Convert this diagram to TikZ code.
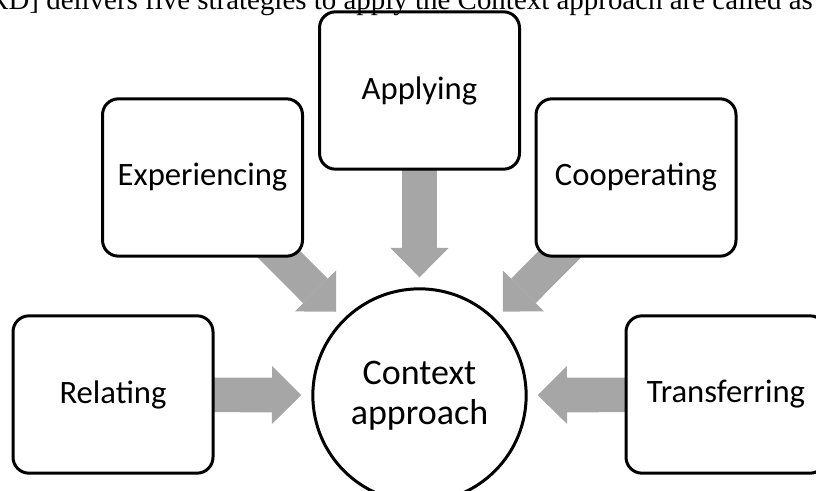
\documentclass[tikz,border=0pt]{standalone}
\usepackage{fontspec}
\setmainfont{Carlito}
\newfontfamily\captionserif{Liberation Serif}
\usetikzlibrary{arrows.meta, positioning, backgrounds}
\definecolor{arrowgray}{RGB}{166,166,166}
\tikzstyle{blockarrow} = [line width=26pt, draw=arrowgray, -{Triangle[length=22pt, width=43.5pt, line width=0pt]}, shorten >=7.5pt]

\begin{document}
\begin{tikzpicture}[x=0.75pt, y=-0.75pt,
    stratbox/.style={rectangle, rounded corners=12pt, draw=black, line width=2.25pt, fill=white, minimum width=150pt, minimum height=118pt, font=\fontsize{24.5}{28}\selectfont, text centered},
    corebox/.style={circle, draw=black, line width=2.25pt, fill=white, minimum size=160pt, inner sep=0pt, align=center, font=\fontsize{27}{30}\selectfont},
]
\useasboundingbox (0,0) rectangle (816,491);

% Centre
\node[corebox] (ctx) at (419.5, 395.5) {Context\\approach};

% Strategy boxes
\node[stratbox] (apply) at (419.5, 90.5) {Applying};
\node[stratbox] (exper) at (202.5, 177.5) {Experiencing};
\node[stratbox] (coop) at (636, 177.5) {Cooperating};
\node[stratbox] (relat) at (113, 394.5) {Relating};
\node[stratbox] (trans) at (726, 394.5) {Transferring};

% Heading line, cut off at the top
\node[anchor=base east, inner sep=0pt, font=\captionserif\fontsize{21.7}{24}\selectfont] (caption) at (813, 9.5) {RD] delivers five strategies to apply the Context approach are called as};

% Arrows
\begin{scope}[on background layer]
\draw[blockarrow] (apply.center) -- (ctx);
\draw[blockarrow] (exper.center) -- (ctx);
\draw[blockarrow] (coop.center) -- (ctx);
\draw[blockarrow] (relat.center) -- (ctx);
\draw[blockarrow] (trans.center) -- (ctx);
\end{scope}

\end{tikzpicture}
\end{document}
